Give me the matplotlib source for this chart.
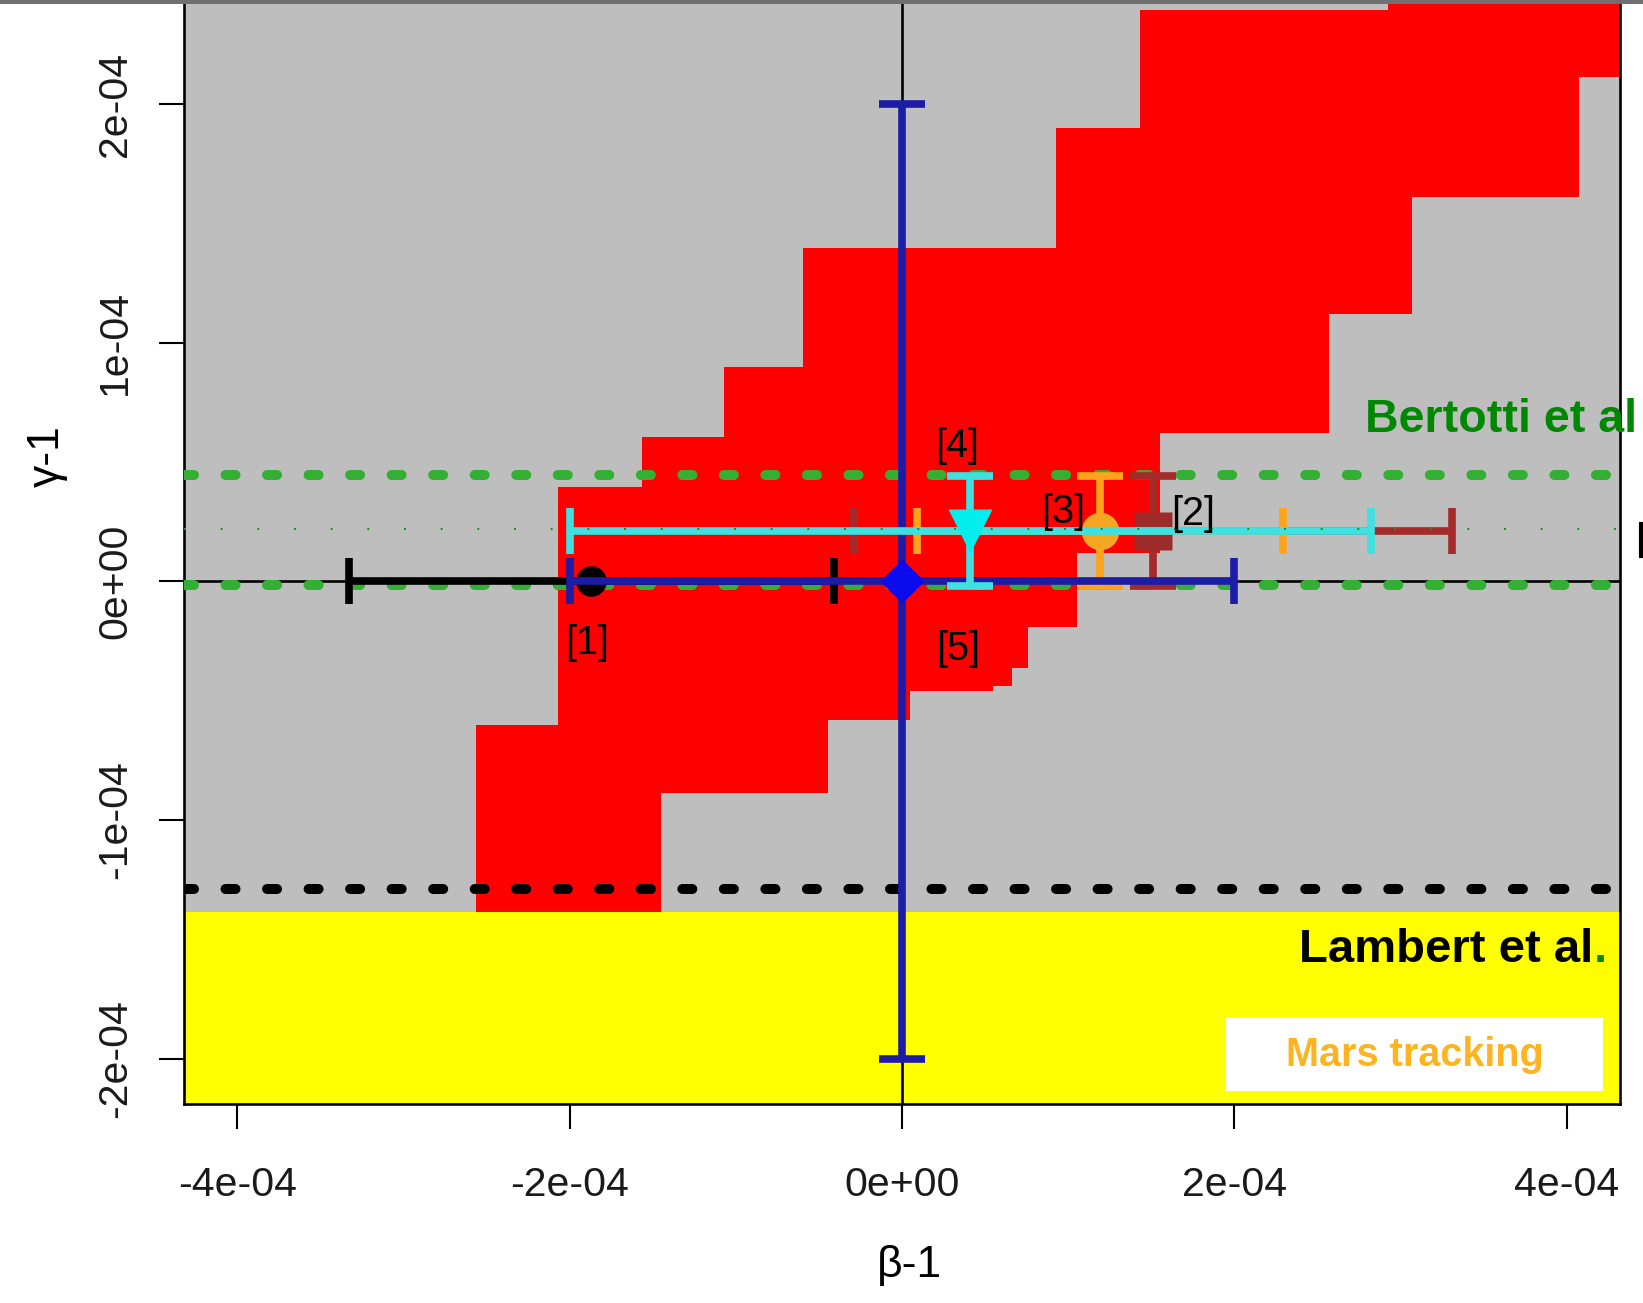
import matplotlib
matplotlib.use("Agg")
import matplotlib.pyplot as plt
from matplotlib import font_manager as fm
from matplotlib.patches import Polygon, Rectangle
from matplotlib.lines import Line2D

plt.rcParams["lines.scale_dashes"] = False

# ---------------- data ----------------
E4 = 1e-4

x_ticks = [-4e-4, -2e-4, 0.0, 2e-4, 4e-4]
x_ticklabels = ["-4e-04", "-2e-04", "0e+00", "2e-04", "4e-04"]
y_ticks = [-2e-4, -1e-4, 0.0, 1e-4, 2e-4]
y_ticklabels = ["-2e-04", "-1e-04", "0e+00", "1e-04", "2e-04"]
x_limits = (-4.32e-4, 4.32e-4)
y_limits = (-2.19e-4, 2.42e-4)

# allowed (red) region outline, in units of 1e-4
region_x = [-2.566, -2.566, -2.067, -2.067, -1.564, -1.564, -1.068, -1.068,
            -0.594, -0.594, 0.926, 0.926, 1.432, 1.432, 2.922, 2.922,
            4.5, 4.5, 4.073, 4.073, 3.07, 3.07, 2.572, 2.572,
            1.555, 1.555, 1.053, 1.053, 0.756, 0.756, 0.664, 0.664,
            0.550, 0.550, 0.051, 0.051, -0.445, -0.445, -1.448, -1.448]
region_y = [-1.386, -0.602, -0.602, 0.397, 0.397, 0.607, 0.607, 0.900,
            0.900, 1.396, 1.396, 1.899, 1.899, 2.395, 2.395, 2.6,
            2.6, 2.116, 2.116, 1.613, 1.613, 1.120, 1.120, 0.623,
            0.623, 0.119, 0.119, -0.189, -0.189, -0.364, -0.364, -0.440,
            -0.440, -0.461, -0.461, -0.580, -0.580, -0.887, -0.887, -1.386]

mars_excluded_top = -1.386e-4          # yellow band upper edge
lambert_limit = -1.287e-4
bertotti_bounds = [4.45e-5, -0.15e-5]
bertotti_center = 2.2e-5

labels = ["[1]", "[2]", "[3]", "[4]", "[5]"]
beta = [-1.87e-4, 1.51e-4, 1.19e-4, 0.41e-4, 0.0]
gamma = [0.0, 2.1e-5, 2.1e-5, 2.1e-5, 0.0]
beta_err = [1.46e-4, 1.80e-4, 1.10e-4, 2.41e-4, 2.0e-4]
gamma_err = [None, 2.3e-5, 2.3e-5, 2.3e-5, 2.0e-4]

# ---------------- fonts ----------------
available = {f.name for f in fm.fontManager.ttflist}
if "Liberation Sans Narrow" in available:
    narrow_font, tick_size, axlab_size = "Liberation Sans Narrow", 35, 37
else:
    narrow_font, tick_size, axlab_size = "Liberation Sans", 29.5, 32
sans = "Liberation Sans"

# ---------------- figure ----------------
W, H = 1643, 1303
fig = plt.figure(figsize=(W / 100, H / 100), dpi=100)
fig.patch.set_facecolor("white")
ax = fig.add_axes([184 / W, (H - 1104) / H, (1620 - 184) / W, (1104 - 4) / H])
ax.set_facecolor("#BEBEBE")

# red region
poly = Polygon(list(zip([v * E4 for v in region_x], [v * E4 for v in region_y])),
               closed=True, facecolor="#FF0000", edgecolor="none", zorder=1)
ax.add_patch(poly)

# yellow excluded band
ax.axhspan(-5e-4, mars_excluded_top, facecolor="#FFFF00", edgecolor="none", zorder=1)

# axes through the origin
ax.axhline(0, color="black", lw=1.9, zorder=2)
ax.axvline(0, color="black", lw=1.9, zorder=2)

# Bertotti and Lambert bounds
for yb in bertotti_bounds:
    ax.axhline(yb, color="#33B033", lw=7.2, dashes=(7.2, 22.7),
               dash_capstyle="round", zorder=3)
ax.axhline(lambert_limit, color="black", lw=7.2, dashes=(7.2, 22.7),
           dash_capstyle="round", zorder=3)

LW = 5.5
CAP = 16.5


def bars(i, color, z):
    ax.errorbar(beta[i], gamma[i], xerr=beta_err[i], yerr=gamma_err[i],
                fmt="none", ecolor=color, elinewidth=LW, capsize=CAP,
                capthick=LW, zorder=z)


# [1] black
bars(0, "black", 4)
ax.plot(beta[0], gamma[0], "o", ms=22, color="black", mec="none", zorder=4.5)
# [2] brown
bars(1, "#A52A2A", 5)
ax.plot(beta[1], gamma[1], "s", ms=28, color="#9E2B2B", mec="none", zorder=5)
# [3] orange
bars(2, "#FFA31A", 6)
ax.plot(beta[2], gamma[2], "o", ms=27, color="#F5A623", mec="none", zorder=6)
# [5] blue
bars(4, "#1C1CA6", 7)
ax.plot(beta[4], gamma[4], "D", ms=22.9, color="#0B0BEE", mec="none", zorder=7.5)
# [4] cyan
bars(3, "#3EE0E0", 8)
ax.plot(beta[3], gamma[3], "v", ms=31.5, color="#00EEEE", mec="none", zorder=8.5)

# Bertotti central value
ax.axhline(bertotti_center, color="#1F8F1F", lw=1.4, dashes=(1.4, 25.0), zorder=9)

# point labels
offsets = [(-3, -44.5), (28.7, 12.8), (-26.4, 13.6), (-9.1, 61.1), (40.7, -49)]
for i, lab in enumerate(labels):
    ax.annotate(lab, xy=(beta[i], gamma[i]), xytext=offsets[i],
                textcoords="offset points", ha="center", va="center",
                fontsize=28.5, family=sans, color="black", zorder=12)

# legend-like annotations
ax.text(0.8225, 0.6108, "Bertotti et al", transform=ax.transAxes, ha="left",
        va="baseline", fontsize=33.5, fontweight="bold", family=sans,
        color="#008800", clip_on=False, zorder=12)
lam = ax.text(0.7766, 0.1294, "Lambert et al", transform=ax.transAxes, ha="left",
              va="baseline", fontsize=34, fontweight="bold", family=sans,
              color="black", zorder=12)
ax.annotate(".", xy=(1, 0), xycoords=lam, ha="left", va="bottom", fontsize=34,
            fontweight="bold", family=sans, color="#008800", zorder=12)
ax.add_patch(Rectangle((0.7255, 0.0114), 0.9883 - 0.7255, 0.0780 - 0.0114,
                       transform=ax.transAxes, facecolor="white",
                       edgecolor="none", zorder=11))
ax.text(0.857, 0.0447, "Mars tracking", transform=ax.transAxes, ha="center",
        va="center", fontsize=28.5, fontweight="bold", family=sans,
        color="#FDB41E", zorder=12)

# limits, ticks
ax.set_xlim(*x_limits)
ax.set_ylim(*y_limits)
ax.set_xticks(x_ticks)
ax.set_xticklabels(x_ticklabels, family=narrow_font, fontsize=tick_size, color="#1A1A1A")
ax.set_yticks(y_ticks)
ax.set_yticklabels(y_ticklabels, family=narrow_font, fontsize=tick_size,
                   color="#1A1A1A", rotation=90, va="center", ha="right")
ax.tick_params(axis="both", direction="out", length=18, width=1.5, color="black")
ax.tick_params(axis="x", pad=27)
ax.tick_params(axis="y", pad=18)
for side in ["left", "bottom", "right"]:
    ax.spines[side].set_linewidth(1.9)
    ax.spines[side].set_color("black")
ax.spines["top"].set_visible(False)

# axis titles
fig.text(909.5 / W, 1 - 1266 / H, "β-1", ha="center", va="center",
         fontsize=axlab_size, family=narrow_font, color="black")
fig.text(47 / W, 1 - 456 / H, "γ-1", ha="center", va="center", rotation=90,
         fontsize=axlab_size, family=narrow_font, color="black")

# frame line along the top of the figure
fig.add_artist(Rectangle((0, 1 - 4 / H), 1, 4 / H, transform=fig.transFigure,
                         facecolor="#707070", edgecolor="none"))
# short dark stroke at the right edge
fig.add_artist(Line2D([1641 / W, 1641 / W], [1 - 524 / H, 1 - 556 / H],
                      transform=fig.transFigure, color="black", lw=3))

fig.savefig("out.png", dpi=100)
